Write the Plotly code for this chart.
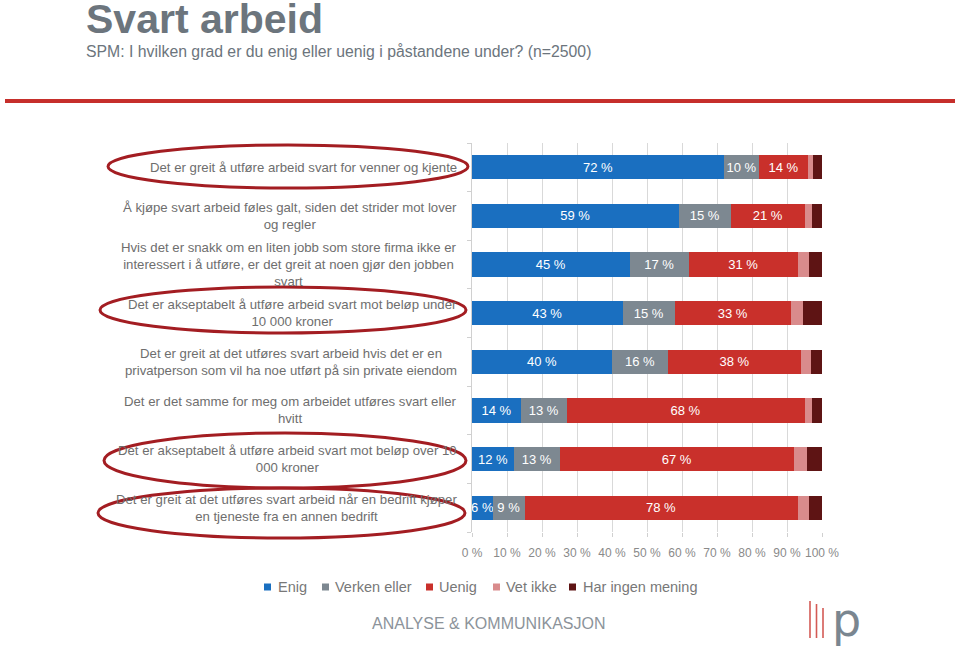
import plotly.graph_objects as go

categories = [
    "Det er greit å utføre arbeid svart for venner og kjente",
    "Å kjøpe svart arbeid føles galt, siden det strider mot lover<br>og regler",
    "Hvis det er snakk om en liten jobb som store firma ikke er<br>interessert i å utføre, er det greit at noen gjør den jobben<br>svart",
    "Det er akseptabelt å utføre arbeid svart mot beløp under<br>10 000 kroner",
    "Det er greit at det utføres svart arbeid hvis det er en<br>privatperson som vil ha noe utført på sin private eiendom",
    "Det er det samme for meg om arbeidet utføres svart eller<br>hvitt",
    "Det er akseptabelt å utføre arbeid svart mot beløp over 10<br>000 kroner",
    "Det er greit at det utføres svart arbeid når en bedrift kjøper<br>en tjeneste fra en annen bedrift",
]
enig = [72, 59, 45, 43, 40, 14, 12, 6]
verken = [10, 15, 17, 15, 16, 13, 13, 9]
uenig = [14, 21, 31, 33, 38, 68, 67, 78]
vet_ikke = [1.3, 2.1, 3.3, 3.7, 2.8, 2.0, 3.8, 3.4]
ingen_mening = [2.7, 2.9, 3.7, 5.3, 3.2, 3.0, 4.2, 3.6]
highlighted = [0, 3, 6, 7]
tick_vals = [0, 10, 20, 30, 40, 50, 60, 70, 80, 90, 100]
tick_text = [f"{v} %" for v in tick_vals]

series = [
    ("Enig", enig, "#1a6fc0", True),
    ("Verken eller", verken, "#7d8891", True),
    ("Uenig", uenig, "#c9302b", True),
    ("Vet ikke", vet_ikke, "#d98b8c", False),
    ("Har ingen mening", ingen_mening, "#5e1414", False),
]

W, H = 959, 650
L, R, T, B = 472, 822, 143, 532  # plot area in screen pixels


def px(x):
    return (x - L) / (R - L)


def py(y):
    return (B - y) / (B - T)


ids = list(range(len(categories)))
fig = go.Figure()
for name, vals, color, labeled in series:
    fig.add_trace(go.Bar(
        name=name, x=vals, y=ids, orientation="h",
        marker=dict(color=color, line=dict(width=0)),
        text=[f"{v:.0f} %" for v in vals] if labeled else None,
        textposition="inside" if labeled else "none",
        insidetextanchor="middle", textangle=0,
        constraintext="none",
        textfont=dict(color="white", size=13, family="Liberation Sans, Arial"),
        hoverinfo="x+name", showlegend=False,
    ))

annotations = []
for i, c in enumerate(categories):
    annotations.append(dict(
        x=px(459), xref="paper", y=i, yref="y", text=c, showarrow=False,
        xanchor="right", yanchor="middle", align="center",
        font=dict(size=13.2, color="#6e6e6e", family="Liberation Sans, Arial"),
    ))

# manual legend
leg_items = [(268, 276), (326, 333), (430, 437), (497, 504), (573, 581)]
shapes = []
for (sx, tx), (name, vals, color, labeled) in zip(leg_items, series):
    shapes.append(dict(type="rect", xref="paper", yref="paper",
                       x0=px(sx - 4), x1=px(sx + 3), y0=py(590.5), y1=py(583.5),
                       fillcolor=color, line=dict(width=0)))
    annotations.append(dict(x=px(tx), y=py(587), xref="paper", yref="paper", text=name,
                            showarrow=False, xanchor="left", yanchor="middle",
                            font=dict(size=14.5, color="#787878", family="Liberation Sans, Arial")))

annotations += [
    dict(x=px(84), y=py(19), xref="paper", yref="paper", text="<b>Svart arbeid</b>",
         showarrow=False, xanchor="left", yanchor="middle",
         font=dict(size=41, color="#6c757d", family="Liberation Sans, Arial")),
    dict(x=px(84), y=py(41), xref="paper", yref="paper",
         text="SPM: I hvilken grad er du enig eller uenig i påstandene under? (n=2500)",
         showarrow=False, xanchor="left", yanchor="top",
         font=dict(size=15.8, color="#6c757d", family="Liberation Sans, Arial")),
    dict(x=px(489), y=py(623), xref="paper", yref="paper",
         text="ANALYSE & KOMMUNIKASJON",
         showarrow=False, xanchor="center", yanchor="middle",
         font=dict(size=16, color="#8c939a", family="Liberation Sans, Arial")),
    dict(x=px(846), y=py(620), xref="paper", yref="paper", text="p",
         showarrow=False, xanchor="center", yanchor="middle",
         font=dict(size=46, color="#7a8690", family="DejaVu Sans")),
]

shapes.append(dict(type="line", xref="paper", yref="paper", x0=px(5), x1=px(955),
                   y0=py(101), y1=py(101), line=dict(color="#c62f2b", width=4)))
ellipses = [(108, 145, 468, 188), (100, 287, 466, 333), (104, 433, 466, 488), (98, 488, 465, 538)]
for x0, y0, x1, y1 in ellipses:
    shapes.append(dict(type="circle", xref="paper", yref="paper",
                       x0=px(x0), x1=px(x1), y0=py(y1), y1=py(y0),
                       line=dict(color="#a31d22", width=3)))
for x, y0 in [(810, 601), (816.5, 604), (823, 608)]:
    shapes.append(dict(type="line", xref="paper", yref="paper",
                       x0=px(x), x1=px(x), y0=py(y0), y1=py(638),
                       line=dict(color="#d45a55", width=1.6)))

fig.update_layout(
    width=W, height=H,
    margin=dict(l=L, r=W - R, t=T, b=H - B, autoexpand=False),
    barmode="stack", bargap=0.5,
    plot_bgcolor="white", paper_bgcolor="white",
    font=dict(family="Liberation Sans, Arial", color="#6e6e6e"),
    xaxis=dict(range=[0, 100], tickvals=tick_vals, ticktext=tick_text,
               showgrid=True, gridcolor="#d9d9d9", gridwidth=1, zeroline=False,
               showline=False, ticks="outside", ticklen=4, tickcolor="#d0d0d0",
               ticklabelstandoff=6,
               tickfont=dict(size=12, color="#8a8a8a"), fixedrange=True),
    yaxis=dict(tickvals=[i - 0.5 for i in range(len(categories) + 1)],
               showticklabels=False, autorange="reversed",
               showgrid=False, zeroline=False,
               showline=True, linecolor="#d0d0d0", ticks="outside", ticklen=4,
               tickcolor="#d0d0d0", fixedrange=True),
    showlegend=False,
    annotations=annotations, shapes=shapes,
)

fig.write_html(
    "out.html",
    config={"displayModeBar": False},
    post_script="document.body.style.margin='0';document.body.style.overflow='hidden';",
)
